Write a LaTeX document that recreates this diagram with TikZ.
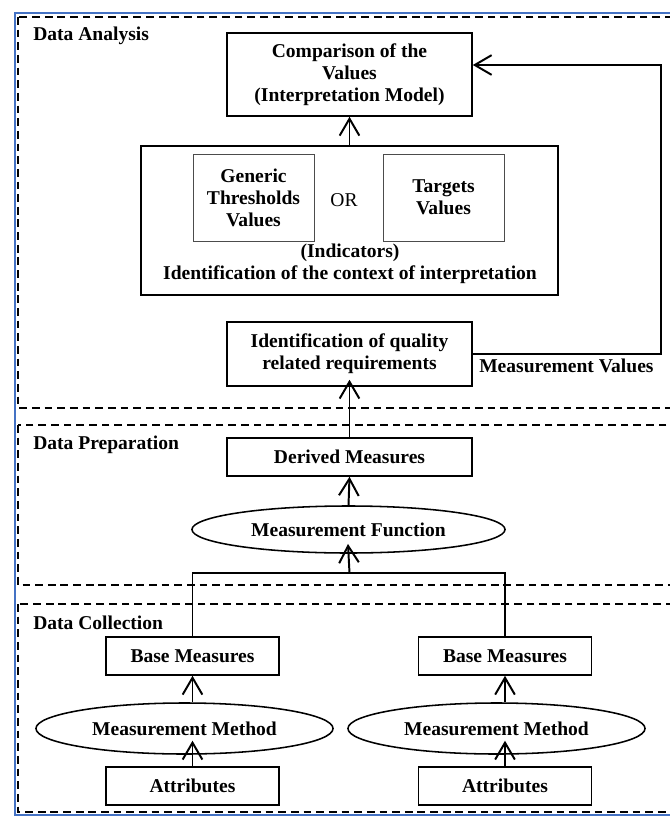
\documentclass[tikz,border=0pt]{standalone}
\usepackage{fontspec}
\setmainfont{Liberation Serif}
\usetikzlibrary{arrows.meta,shapes.geometric}
\definecolor{frameblue}{RGB}{68,114,196}
\tikzset{
  mfont/.style={font=\fontsize{13.9}{15.6}\selectfont\bfseries},
  mbox/.style={draw, line width=1.1pt, align=center, inner sep=2pt, fill=white, mfont},
  mthin/.style={mbox, line width=0.6pt, draw=black!70},
  mell/.style={mbox, ellipse, inner sep=0pt},
  marrow/.style={-{Straight Barb[length=12pt,width=14pt,line width=1.4pt]}, line width=1.4pt},
  mline/.style={line width=1.4pt},
  mlabel/.style={mfont, inner sep=0pt, align=center},
  mframe/.style={dash pattern=on 5.5pt off 3.5pt, line width=1.3pt},
}

\begin{document}
\begin{tikzpicture}[x=0.025cm, y=-0.025cm]
  \useasboundingbox (0,0) rectangle (670,816);
  \clip (0,0) rectangle (670,816);
  % outer frame and the three stages
  \draw[frameblue, line width=2.1pt] (15,13) rectangle (720,815);
  \draw[mframe] (18,17) rectangle (720,408);
  \draw[mframe] (18,425) rectangle (720,585);
  \draw[mframe] (18,604) rectangle (720,812);
  \node[mlabel, anchor=west] (lblana) at (33,36) {Data Analysis};
  \node[mlabel, anchor=west] (lblprep) at (33,445) {Data Preparation};
  \node[mlabel, anchor=west] (lblcoll) at (33,623) {Data Collection};

  % data analysis
  \node[mbox, minimum width=6.125cm, minimum height=2.075cm] (cmp) at (349.5,74.5) {Comparison of the\\Values\\(Interpretation Model)};
  \node[mbox, minimum width=10.425cm, minimum height=3.725cm] (ctx) at (349.5,220.5) {};
  \node[mthin, minimum width=3.025cm, minimum height=2.175cm] (gen) at (253.5,197.5) {Generic\\Thresholds\\Values};
  \node[mthin, minimum width=3.025cm, minimum height=2.175cm] (tgt) at (443.5,197.5) {Targets\\Values};
  \node[mlabel, font=\fontsize{13.9}{15.6}\selectfont] (orlbl) at (344,200) {OR};
  \node[mlabel] (ctxlbl) at (350,264) {(Indicators)\\Identification of the context of interpretation};
  \node[mbox, minimum width=6.125cm, minimum height=1.6cm] (qual) at (349.5,354) {Identification of quality\\related requirements};
  \node[mlabel, anchor=west] (mvals) at (479,366) {Measurement Values};
  \coordinate (fbr) at (661,65);

  % data preparation
  \node[mbox, minimum width=6.125cm, minimum height=0.95cm] (der) at (349.5,457) {Derived Measures};
  \node[mell, minimum width=7.825cm, minimum height=1.175cm] (mfun) at (348.5,529.5) {Measurement Function};
  \coordinate (bar) at (349.5,573);

  % data collection
  \node[mbox, minimum width=4.325cm, minimum height=0.95cm] (bml) at (192.5,656) {Base Measures};
  \node[mbox, minimum width=4.325cm, minimum height=0.95cm] (bmr) at (505,656) {Base Measures};
  \node[mell, minimum width=7.425cm, minimum height=1.275cm] (mml) at (184.5,728.5) {Measurement Method};
  \node[mell, minimum width=7.425cm, minimum height=1.275cm] (mmr) at (496.5,728.5) {Measurement Method};
  \node[mbox, minimum width=4.325cm, minimum height=0.95cm] (atl) at (192.5,786) {Attributes};
  \node[mbox, minimum width=4.325cm, minimum height=0.95cm] (atr) at (505,786) {Attributes};

  % connectors
  \draw[marrow] (ctx.north) -- (cmp.south);
  \draw[marrow] (qual.east) -| (fbr) -- (fbr -| cmp.east);
  \draw[marrow, shorten >=-5pt] (der.north) -- (qual.south);
  \draw[marrow] (mfun.north) -- (der.south);
  \draw[mline] (bml.north) |- (bar) -| (bmr.north);
  \draw[marrow, shorten >=-7pt] (bar) -- (mfun.south);
  \draw[marrow] (bml.south |- mml.north) -- (bml.south);
  \draw[marrow] (bmr.south |- mmr.north) -- (bmr.south);
  \draw[marrow, shorten >=-10pt] (atl.north) -- (atl.north |- mml.south);
  \draw[marrow, shorten >=-10pt] (atr.north) -- (atr.north |- mmr.south);
\end{tikzpicture}
\end{document}
